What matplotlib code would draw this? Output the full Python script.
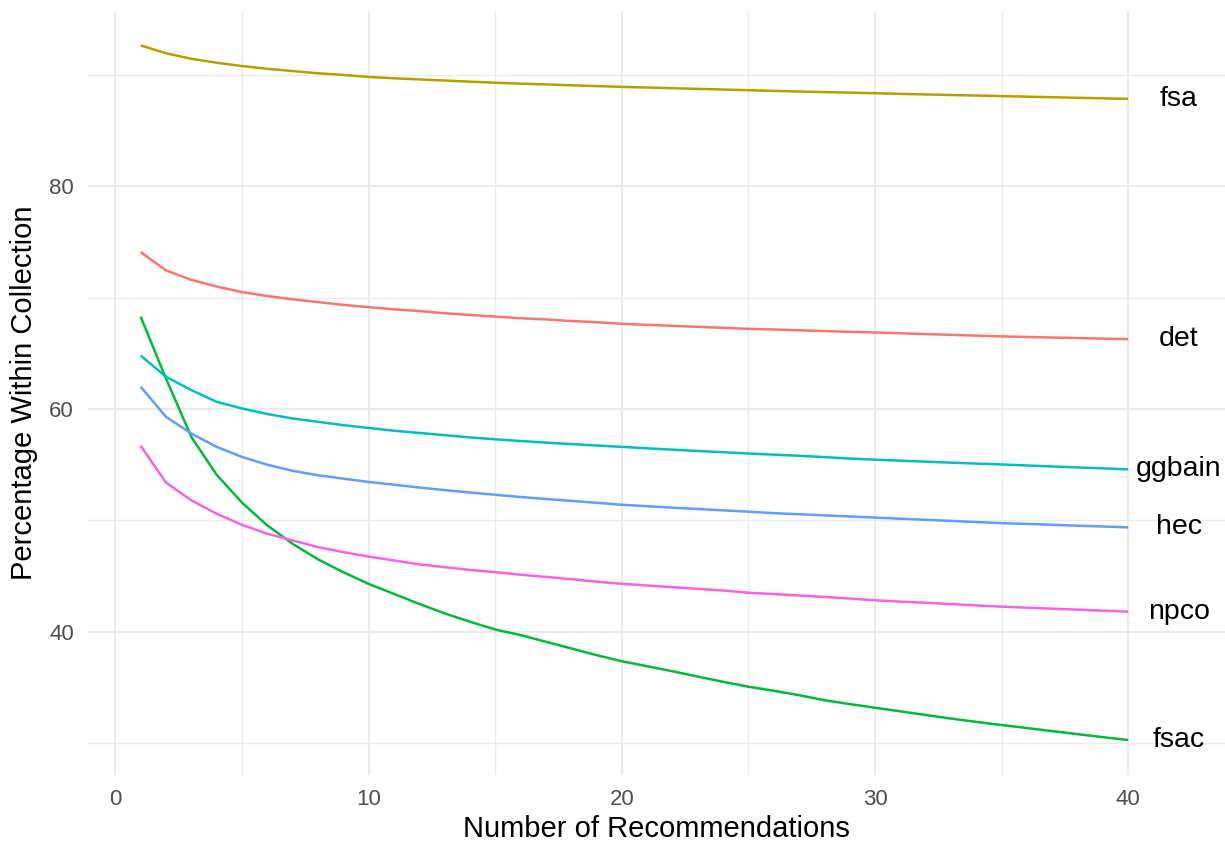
import numpy as np
import matplotlib
matplotlib.use("Agg")
import matplotlib.pyplot as plt
from matplotlib.ticker import MultipleLocator

plt.rcParams['font.family'] = ['Liberation Sans', 'DejaVu Sans']

#####################################################################################################
# data

n_recs = list(range(1, 41))

det = [74.1, 72.45, 71.6, 71.0, 70.5, 70.15, 69.85, 69.6, 69.35, 69.15,
       68.95, 68.8, 68.6, 68.45, 68.3, 68.15, 68.05, 67.9, 67.8, 67.65,
       67.56, 67.47, 67.38, 67.29, 67.2, 67.14, 67.07, 67.0, 66.93, 66.87,
       66.8, 66.73, 66.66, 66.59, 66.52, 66.47, 66.42, 66.37, 66.32, 66.27]

fsa = [92.65, 91.95, 91.45, 91.1, 90.8, 90.55, 90.35, 90.15, 90.0, 89.82,
       89.7, 89.6, 89.5, 89.4, 89.3, 89.22, 89.15, 89.07, 89.0, 88.93,
       88.87, 88.81, 88.75, 88.69, 88.63, 88.57, 88.51, 88.46, 88.41, 88.36,
       88.3, 88.25, 88.2, 88.15, 88.1, 88.05, 88.0, 87.95, 87.9, 87.85]

fsac = [68.3, 62.75, 57.5, 54.1, 51.6, 49.55, 47.9, 46.5, 45.35, 44.3,
        43.4, 42.5, 41.65, 40.9, 40.2, 39.7, 39.1, 38.5, 37.9, 37.35,
        36.9, 36.45, 35.97, 35.5, 35.06, 34.7, 34.3, 33.85, 33.5, 33.17,
        32.85, 32.52, 32.2, 31.9, 31.62, 31.35, 31.07, 30.8, 30.53, 30.27]

ggbain = [64.8, 62.9, 61.7, 60.65, 60.05, 59.55, 59.15, 58.85, 58.55, 58.3,
          58.05, 57.85, 57.65, 57.45, 57.28, 57.13, 56.98, 56.85, 56.72, 56.6,
          56.47, 56.35, 56.23, 56.12, 56.0, 55.9, 55.8, 55.68, 55.55, 55.45,
          55.36, 55.27, 55.18, 55.1, 55.02, 54.93, 54.84, 54.75, 54.67, 54.58]

hec = [62.0, 59.3, 57.8, 56.6, 55.7, 55.0, 54.45, 54.05, 53.75, 53.45,
       53.2, 52.95, 52.72, 52.5, 52.3, 52.1, 51.92, 51.75, 51.58, 51.4,
       51.27, 51.14, 51.02, 50.9, 50.78, 50.65, 50.55, 50.45, 50.35, 50.25,
       50.15, 50.05, 49.95, 49.85, 49.75, 49.68, 49.6, 49.52, 49.45, 49.37]

npco = [56.7, 53.4, 51.8, 50.6, 49.6, 48.8, 48.2, 47.6, 47.15, 46.75,
        46.4, 46.05, 45.8, 45.55, 45.35, 45.12, 44.92, 44.72, 44.5, 44.3,
        44.15, 44.0, 43.85, 43.7, 43.5, 43.38, 43.25, 43.12, 42.98, 42.82,
        42.7, 42.6, 42.48, 42.36, 42.25, 42.16, 42.07, 41.98, 41.89, 41.8]

series_names = ["det", "fsa", "fsac", "ggbain", "hec", "npco"]
series_values = [det, fsa, fsac, ggbain, hec, npco]

#####################################################################################################
# ggplot hue palette, 6 levels
colors = ["#F8766D", "#B79F00", "#00BA38", "#00BFC4", "#619CFF", "#F564E3"]

fig = plt.figure(figsize=(12.25, 8.41), dpi=100)
ax = fig.add_axes([88/1225, 1 - 774.8/841, (1225-88)/1225, (774.8-10.7)/841])

for name, vals, col in zip(series_names, series_values, colors):
	ax.plot(n_recs, vals, color=col, linewidth=1.8, solid_capstyle='butt',
		solid_joinstyle='round', zorder=3)
	ax.text(n_recs[-1] + 2, vals[-1], name, fontsize=20.5, color='black',
		ha='center', va='center', zorder=4)

ax.set_xlim(-1.078, 43.82)
ax.set_ylim(27.15, 95.77)

ax.xaxis.set_major_locator(MultipleLocator(10))
ax.xaxis.set_minor_locator(MultipleLocator(5))
ax.yaxis.set_major_locator(MultipleLocator(20))
ax.yaxis.set_minor_locator(MultipleLocator(10))

ax.grid(which='major', color='#EBEBEB', linewidth=1.5, zorder=0)
ax.grid(which='minor', color='#EBEBEB', linewidth=1.0, zorder=0)
ax.set_axisbelow(True)

for s in ax.spines.values():
	s.set_visible(False)

ax.tick_params(which='both', length=0)
ax.tick_params(axis='x', labelsize=16, labelcolor='#4D4D4D', pad=10)
ax.tick_params(axis='y', labelsize=16, labelcolor='#4D4D4D', pad=10)

ax.set_xlabel("Number of Recommendations", fontsize=21, color='black', labelpad=4)
ax.set_ylabel("Percentage Within Collection", fontsize=21, color='black', labelpad=8)

fig.savefig("out.png", dpi=100)
